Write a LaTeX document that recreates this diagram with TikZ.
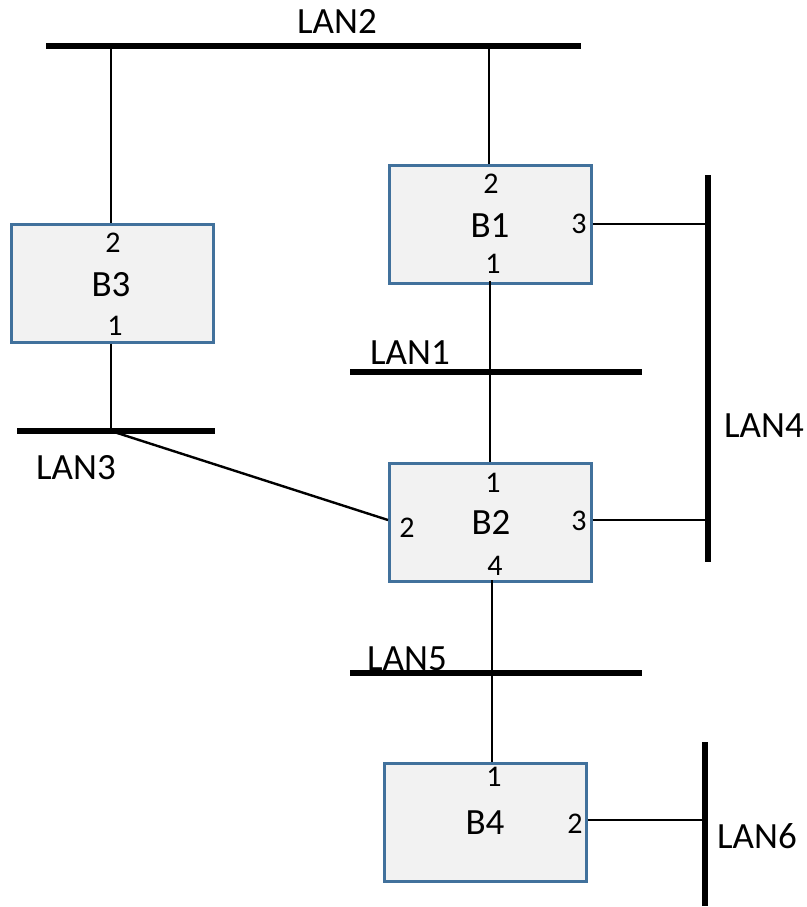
\documentclass[tikz,border=0pt]{standalone}
\usepackage{fontspec}
\setmainfont{Carlito}
\definecolor{boxline}{HTML}{41719C}
\definecolor{boxfill}{HTML}{F2F2F2}
\begin{document}
\begin{tikzpicture}[x=1pt,y=-1pt,
  bridge/.style={draw=boxline,line width=2.5pt,fill=boxfill,minimum width=202pt,minimum height=118pt,inner sep=0pt,anchor=north west},
  bus/.style={line width=6pt},
  wire/.style={line width=2.4pt},
  lbl/.style={font=\fontsize{37}{44}\selectfont,inner sep=0pt},
  port/.style={font=\fontsize{30}{36}\selectfont,inner sep=0pt}]
\useasboundingbox (0,0) rectangle (806,907);
% bridges
\node[bridge] (B3) at (10,223) {};
\node[bridge] (B1) at (388,164) {};
\node[bridge] (B2) at (388,462) {};
\node[bridge] (B4) at (383,762) {};
% bridge texts
\node[lbl] (tB3) at (111,285) {B3};
\node[port] (p32) at (113,243) {2};
\node[port] (p31) at (115,326) {1};
\node[lbl] (tB1) at (490,226) {B1};
\node[port] (p12) at (491,184) {2};
\node[port] (p11) at (493,264) {1};
\node[port] (p13) at (579,224) {3};
\node[lbl] (tB2) at (491,522) {B2};
\node[port] (p21) at (493,483) {1};
\node[port] (p22) at (407,528) {2};
\node[port] (p23) at (579,521) {3};
\node[port] (p24) at (495,566) {4};
\node[lbl] (tB4) at (485,823) {B4};
\node[port] (p41) at (494,777) {1};
\node[port] (p42) at (575,824) {2};
% buses
\coordinate (L2a) at (46,46); \coordinate (L2b) at (581,46);
\coordinate (L1a) at (350,372); \coordinate (L1b) at (642,372);
\coordinate (L3a) at (17,431); \coordinate (L3b) at (215,431);
\coordinate (L4a) at (708,175); \coordinate (L4b) at (708,562);
\coordinate (L5a) at (350,673); \coordinate (L5b) at (642,673);
\coordinate (L6a) at (705,742); \coordinate (L6b) at (705,906);
\draw[bus] (L2a) -- (L2b);
\draw[bus] (L1a) -- (L1b);
\draw[bus] (L3a) -- (L3b);
\draw[bus] (L4a) -- (L4b);
\draw[bus] (L5a) -- (L5b);
\draw[bus] (L6a) -- (L6b);
\node[lbl] (nL2) at (337,21) {LAN2};
\node[lbl] (nL1) at (410,353) {LAN1};
\node[lbl] (nL3) at (76,468) {LAN3};
\node[lbl] (nL4) at (764,426) {LAN4};
\node[lbl] (nL5) at (407,659) {LAN5};
\node[lbl] (nL6) at (757,836) {LAN6};
% attachment points
\coordinate (c2a) at (111,46);
\coordinate (c2b) at (489,46);
\coordinate (c3) at (111,431);
\coordinate (c4a) at (708,224);
\coordinate (c4b) at (708,520);
\coordinate (c6) at (705,820);
% connectors
\draw[wire] (c2a) -- (B3.north -| c2a);
\draw[wire] (c2b) -- (B1.north -| c2b);
\draw[wire] (B3.south -| c3) -- (c3);
\draw[wire] (c3) -- (388,520);
\draw[wire] (B1.east |- c4a) -- (c4a);
\draw[wire] (B2.east |- c4b) -- (c4b);
\draw[wire] (490,281) -- (490,462);
\draw[wire] (492,580) -- (492,762);
\draw[wire] (B4.east |- c6) -- (c6);
\end{tikzpicture}
\end{document}
